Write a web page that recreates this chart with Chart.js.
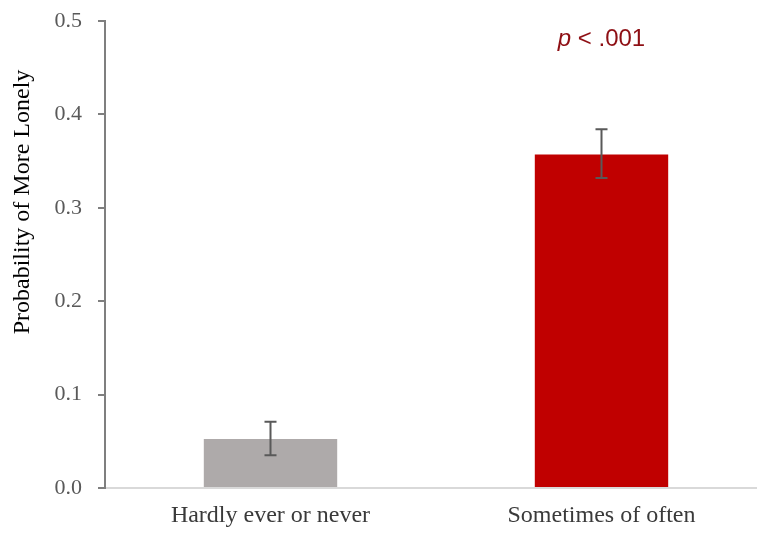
<!DOCTYPE html>
<html>
<head>
<meta charset="utf-8">
<script src="https://cdn.jsdelivr.net/npm/chart.js@4.4.1/dist/chart.umd.min.js"></script>
<style>
  html, body { margin: 0; padding: 0; background: #ffffff; overflow: hidden; }
  #wrap { position: relative; width: 767px; height: 533px; }
</style>
</head>
<body>
<div id="wrap"><canvas id="chart"></canvas></div>
<script>
// Loneliness probability by contact frequency, with 95% error bars
const categories = ["Hardly ever or never", "Sometimes of often"];
const probabilities = [0.0525, 0.357];
const errorLow = [0.035, 0.332];
const errorHigh = [0.071, 0.384];
const barColors = ["#aeaaaa", "#c00000"];
const yTicks = [0.0, 0.1, 0.2, 0.3, 0.4, 0.5];
const yTitle = "Probability of More Lonely";
const significance = { index: 1, value: 0.48, italic: "p", rest: " < .001" };

const errorBarPlugin = {
  id: "errorBars",
  afterDatasetsDraw(chart) {
    const ctx = chart.ctx;
    const x = chart.scales.x, y = chart.scales.y;
    ctx.save();
    ctx.strokeStyle = "#595959";
    ctx.lineWidth = 2;
    const cap = 6;
    categories.forEach((c, i) => {
      const px = x.getPixelForValue(i);
      const top = y.getPixelForValue(errorHigh[i]);
      const bot = y.getPixelForValue(errorLow[i]);
      ctx.beginPath();
      ctx.moveTo(px, top); ctx.lineTo(px, bot);
      ctx.moveTo(px - cap, top); ctx.lineTo(px + cap, top);
      ctx.moveTo(px - cap, bot); ctx.lineTo(px + cap, bot);
      ctx.stroke();
    });
    ctx.restore();
  }
};

const textPlugin = {
  id: "extraText",
  afterDraw(chart) {
    const ctx = chart.ctx;
    const x = chart.scales.x, y = chart.scales.y;
    ctx.save();
    // rotated axis title
    ctx.translate(23, 202);
    ctx.rotate(-Math.PI / 2);
    ctx.fillStyle = "#000000";
    ctx.font = "24px 'Liberation Serif', 'Times New Roman', serif";
    ctx.textAlign = "center";
    ctx.textBaseline = "middle";
    ctx.fillText(yTitle, 0, 0);
    ctx.restore();

    // significance label above the second bar
    ctx.save();
    const cx = x.getPixelForValue(significance.index);
    const cy = y.getPixelForValue(significance.value);
    const fItal = "italic 24px 'Liberation Sans', Arial, sans-serif";
    const fReg = "24px 'Liberation Sans', Arial, sans-serif";
    ctx.font = fItal;
    const w1 = ctx.measureText(significance.italic).width;
    ctx.font = fReg;
    const w2 = ctx.measureText(significance.rest).width;
    const start = cx - (w1 + w2) / 2;
    ctx.fillStyle = "#8e0f14";
    ctx.textBaseline = "middle";
    ctx.textAlign = "left";
    ctx.font = fItal;
    ctx.fillText(significance.italic, start, cy);
    ctx.font = fReg;
    ctx.fillText(significance.rest, start + w1, cy);
    ctx.restore();
  }
};

new Chart(document.getElementById("chart"), {
  type: "bar",
  data: {
    labels: categories,
    datasets: [{
      data: probabilities,
      backgroundColor: barColors,
      borderWidth: 0,
      categoryPercentage: 1.0,
      barPercentage: 0.403
    }]
  },
  options: {
    responsive: true,
    maintainAspectRatio: false,
    animation: false,
    layout: { padding: { top: 21, left: 0, right: 0, bottom: 0 } },
    plugins: { legend: { display: false }, tooltip: { enabled: false } },
    scales: {
      x: {
        grid: { display: false, drawTicks: false },
        border: { display: true, color: "#d9d9d9", width: 2 },
        ticks: {
          color: "#3a3a3a",
          padding: 13,
          font: { family: "'Liberation Serif', 'Times New Roman', serif", size: 24 }
        },
        afterFit(scale) { scale.height = 45; }
      },
      y: {
        min: 0,
        max: 0.5,
        afterBuildTicks(scale) { scale.ticks = yTicks.map(v => ({ value: v })); },
        grid: { drawOnChartArea: false, drawTicks: true, tickLength: 7, color: "#7f7f7f", lineWidth: 2 },
        border: { display: true, color: "#7f7f7f", width: 2 },
        ticks: {
          color: "#595959",
          padding: 16,
          font: { family: "'Liberation Serif', 'Times New Roman', serif", size: 22 },
          callback: v => Number(v).toFixed(1)
        },
        afterFit(scale) {
          scale.width = 105;
          scale.paddingTop = 0;
          scale.paddingBottom = 0;
        }
      }
    }
  },
  plugins: [errorBarPlugin, textPlugin]
});
</script>
</body>
</html>
